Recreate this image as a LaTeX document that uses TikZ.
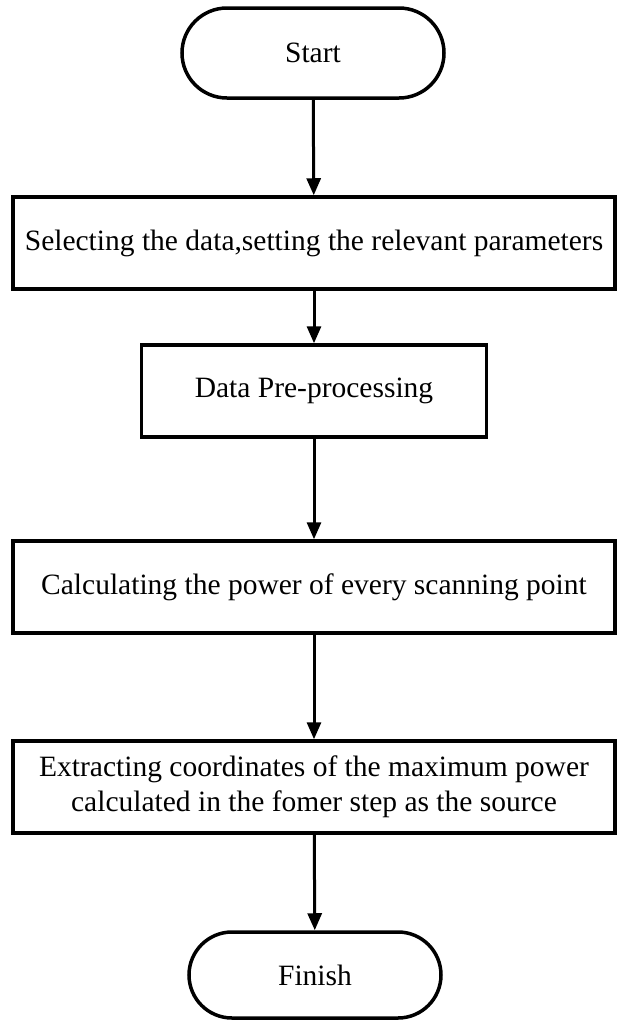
\documentclass[tikz,border=0pt]{standalone}
\usepackage{fontspec}
\setmainfont{Liberation Serif}
\usetikzlibrary{shapes.misc,arrows.meta}
\begin{document}
\begin{tikzpicture}[x=1bp,y=-1bp,
  every node/.style={font=\fontsize{29.5bp}{35bp}\selectfont},
  terminal/.style={rounded rectangle, draw, line width=3.5bp, minimum width=262bp, minimum height=90bp, inner sep=0pt},
  stepbox/.style={rectangle, draw, line width=3.5bp, minimum height=92bp, align=center, inner sep=0pt},
  flow/.style={-{Triangle[length=17bp,width=14bp]}, line width=3bp}]
\useasboundingbox (0,0) rectangle (617,1025);
\node[terminal] (start) at (313,53) {Start};
\node[stepbox, minimum width=602bp] (select) at (314,243) {Selecting the data,setting the relevant parameters};
\node[stepbox, minimum width=345bp] (prep) at (314,391) {Data Pre-processing};
\node[stepbox, minimum width=602bp] (power) at (314,587) {Calculating the power of every scanning point};
\node[stepbox, minimum width=602bp] (extract) at (314,787) {Extracting coordinates of the maximum power\\calculated in the fomer step as the source};
\node[terminal, minimum width=252bp, minimum height=86bp] (finish) at (315,975) {Finish};
\draw[flow] (start) -- (select);
\draw[flow] (select) -- (prep);
\draw[flow] (prep) -- (power);
\draw[flow] (power) -- (extract);
\draw[flow] (extract) -- (finish);
\end{tikzpicture}
\end{document}
